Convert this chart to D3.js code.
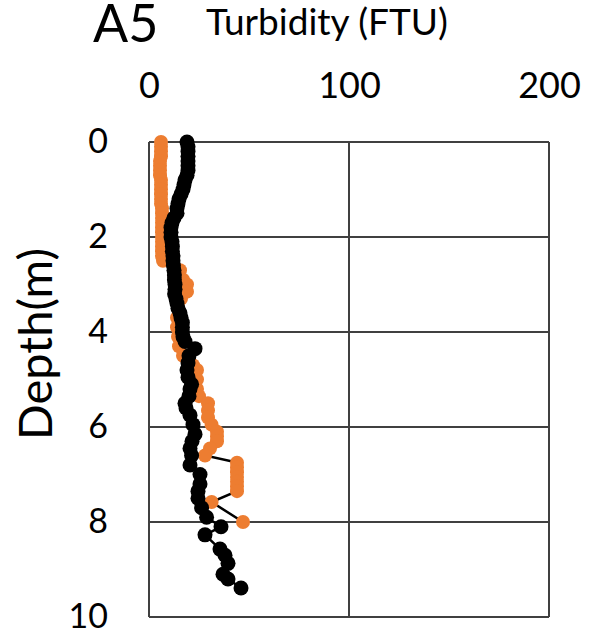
<!DOCTYPE html>
<html>
<head>
<meta charset="utf-8">
<script src="https://cdn.jsdelivr.net/npm/d3@7"></script>
<style>
  body { margin: 0; background: #fff; }
  text { font-family: Lato, "Open Sans", sans-serif; }
</style>
</head>
<body>
<div id="chart"></div>
<script>
// depth (m) and turbidity (FTU)
const blackDepth = [0, 0.1, 0.2, 0.3, 0.4, 0.5, 0.6, 0.7, 0.8, 0.9, 1.0, 1.1, 1.2, 1.3, 1.4, 1.5,
  1.6, 1.7, 1.8, 1.9, 2.0, 2.1, 2.2, 2.3, 2.4, 2.5, 2.6, 2.7, 2.8, 2.9, 3.0, 3.1, 3.2, 3.3, 3.4,
  3.5, 3.6, 3.7, 3.8, 3.9, 4.0, 4.1, 4.2, 4.35, 4.5, 4.65, 4.8, 4.95, 5.1, 5.2, 5.35, 5.5, 5.6,
  5.75, 5.95, 6.15, 6.3, 6.45, 6.6, 6.8, 7.0, 7.2, 7.35, 7.5, 7.7, 7.9, 8.1, 8.27, 8.57, 8.7,
  8.87, 9.1, 9.2, 9.39]
const blackTurb = [19, 19.5, 19.5, 19.5, 19.5, 19.5, 19.5, 19, 18, 17.5, 17, 16, 15, 14.5, 14, 14,
  12.5, 11.5, 11, 11, 11, 11.5, 11.7, 11.7, 12, 12, 12.2, 12.5, 12.7, 12.7, 13, 13, 12.8, 13.5, 14,
  14.5, 15.5, 16, 16.7, 16.7, 16.7, 17, 18, 23, 20, 19.5, 19, 19.5, 21.3, 20.5, 20, 18, 18.5,
  20.5, 22, 23, 21.5, 20.5, 21.3, 20.5, 25.5, 25.5, 24.5, 24.5, 26.3, 28.8, 36, 28, 35.5, 38,
  39.5, 37, 39.5, 46]

const orangeDepth = [0, 0.1, 0.2, 0.3, 0.4, 0.5, 0.6, 0.7, 0.8, 0.9, 1.0, 1.1, 1.2, 1.3, 1.4, 1.5,
  1.6, 1.7, 1.8, 1.9, 2.0, 2.1, 2.2, 2.3, 2.4, 2.5, 2.7, 2.9, 3.0, 3.15, 3.3, 3.5, 3.7, 3.9, 4.1,
  4.3, 4.5, 4.7, 4.8, 5.0, 5.2, 5.35, 5.5, 5.65, 5.8, 5.95, 6.1, 6.2, 6.3, 6.45, 6.6, 6.75, 6.85,
  6.95, 7.05, 7.15, 7.25, 7.35, 7.58, 8.0]
const orangeTurb = [6, 6, 6, 6, 5.5, 5.5, 5.5, 5.5, 6, 6, 6, 6, 6, 6, 6.5, 6.5,
  6.5, 6.5, 6.5, 6.5, 6.5, 6.5, 6.5, 6.5, 6.5, 7, 15.5, 17, 19, 19, 16, 14.5, 14, 14, 14.5,
  15, 17, 22, 24, 24, 24, 25, 29.5, 29.5, 29.5, 31.3, 34, 34, 34, 30.5, 28, 44, 44,
  44, 44, 44, 44, 44, 31.3, 47]

const xTicks = [0, 100, 200]
const yTicks = [0, 2, 4, 6, 8, 10]

const sWidth = 615, sHeight = 634
const margin = { top: 142, left: 149, right: 66, bottom: 17 }

const x = d3.scaleLinear().domain([0, 200]).range([margin.left, sWidth - margin.right])
const y = d3.scaleLinear().domain([0, 10]).range([margin.top, sHeight - margin.bottom])

const svg = d3.select('#chart').append('svg')
  .attr('width', sWidth)
  .attr('height', sHeight)

const gridColor = '#404040'

// grid lines
svg.append('g')
  .selectAll('line')
  .data(xTicks)
  .join('line')
  .attr('x1', d => x(d)).attr('x2', d => x(d))
  .attr('y1', y(0)).attr('y2', y(10))
  .attr('stroke', gridColor).attr('stroke-width', 2)

svg.append('g')
  .selectAll('line')
  .data(yTicks)
  .join('line')
  .attr('x1', x(0)).attr('x2', x(200))
  .attr('y1', d => y(d)).attr('y2', d => y(d))
  .attr('stroke', gridColor).attr('stroke-width', 2)

// tick labels through axes
const xAxis = svg.append('g')
  .attr('transform', 'translate(0,' + 98 + ')')
  .call(d3.axisTop(x).tickValues(xTicks).tickSize(0).tickPadding(0))
xAxis.select('.domain').remove()
xAxis.selectAll('text')
  .style('font-family', 'Lato, sans-serif')
  .style('font-size', '36px')
  .attr('fill', '#000')
  .attr('dy', 0)

const yAxis = svg.append('g')
  .attr('transform', 'translate(' + 108 + ',0)')
  .call(d3.axisLeft(y).tickValues(yTicks).tickSize(0).tickPadding(0))
yAxis.select('.domain').remove()
yAxis.selectAll('text')
  .style('font-family', 'Lato, sans-serif')
  .style('font-size', '34px')
  .attr('fill', '#000')
  .attr('dy', '0.3em')

// titles
svg.append('text')
  .attr('x', 93).attr('y', 42)
  .style('font-size', '52px')
  .text('A5')

svg.append('text')
  .attr('x', 206).attr('y', 35)
  .style('font-size', '37px')
  .text('Turbidity (FTU)')

svg.append('text')
  .attr('transform', 'translate(52,344) rotate(-90)')
  .attr('text-anchor', 'middle')
  .style('font-size', '47px')
  .text('Depth(m)')

// series
const orange = orangeDepth.map((d, i) => ({ d: d, v: orangeTurb[i] }))
const black = blackDepth.map((d, i) => ({ d: d, v: blackTurb[i] }))

const line = d3.line().x(p => x(p.v)).y(p => y(p.d))

svg.append('path')
  .datum(orange)
  .attr('d', line)
  .attr('fill', 'none')
  .attr('stroke', '#000')
  .attr('stroke-width', 2.5)

svg.append('g')
  .selectAll('circle')
  .data(orange)
  .join('circle')
  .attr('cx', p => x(p.v))
  .attr('cy', p => y(p.d))
  .attr('r', 7)
  .attr('fill', '#ED7D31')

svg.append('path')
  .datum(black)
  .attr('d', line)
  .attr('fill', 'none')
  .attr('stroke', '#000')
  .attr('stroke-width', 2.5)

svg.append('g')
  .selectAll('circle')
  .data(black)
  .join('circle')
  .attr('cx', p => x(p.v))
  .attr('cy', p => y(p.d))
  .attr('r', 7.5)
  .attr('fill', '#000')
</script>
</body>
</html>
